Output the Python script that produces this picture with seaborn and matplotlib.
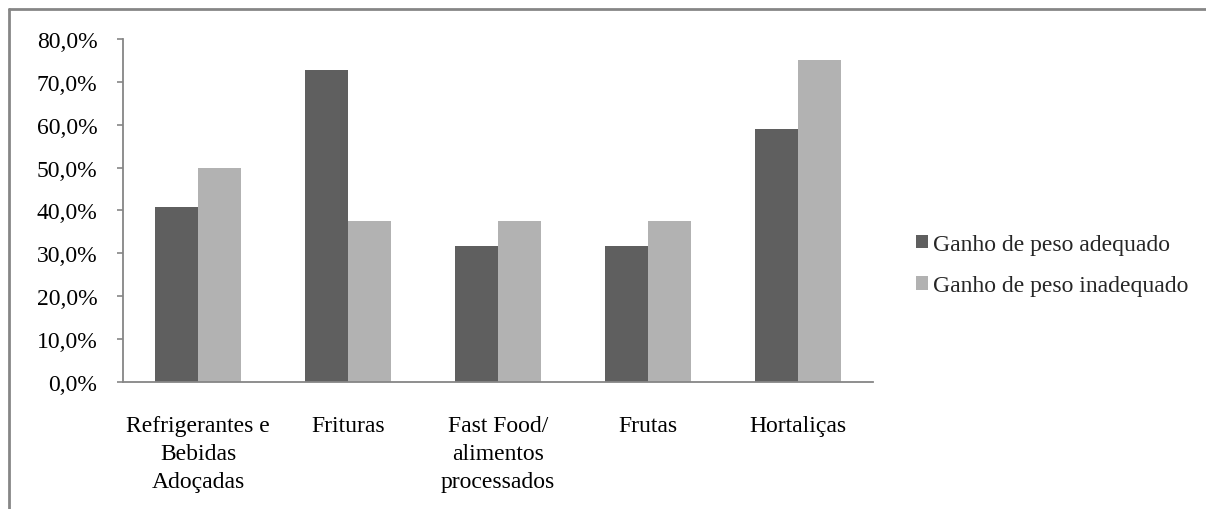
import matplotlib
matplotlib.use("Agg")
import matplotlib.pyplot as plt
import seaborn as sns
import pandas as pd
from matplotlib.patches import Patch
from matplotlib.lines import Line2D

categories = ["Refrigerantes e\nBebidas\nAdoçadas", "Frituras", "Fast Food/\nalimentos\nprocessados", "Frutas", "Hortaliças"]
series_names = ["Ganho de peso adequado", "Ganho de peso inadequado"]
adequado = [40.9, 72.7, 31.8, 31.8, 59.1]
inadequado = [50.0, 37.5, 37.5, 37.5, 75.0]
y_ticks = [0, 10, 20, 30, 40, 50, 60, 70, 80]
y_tick_labels = ["0,0%", "10,0%", "20,0%", "30,0%", "40,0%", "50,0%", "60,0%", "70,0%", "80,0%"]
colors = ["#5f5f5f", "#b2b2b2"]

df = pd.DataFrame({
    "cat": categories * 2,
    "serie": [series_names[0]] * 5 + [series_names[1]] * 5,
    "val": adequado + inadequado,
})

sns.set_theme(style="white")
plt.rcParams['font.family'] = ['Liberation Serif', 'DejaVu Serif']
fs = 17

fig = plt.figure(figsize=(12.06, 5.10), dpi=100)
ax = fig.add_axes([123/1206, 1-383/510, 750/1206, 343/510])
sns.barplot(data=df, x="cat", y="val", hue="serie", palette=colors, ax=ax,
            width=0.575, saturation=1, legend=False, edgecolor="none", linewidth=0)

ax.set_xlim(-0.5, 4.5)
ax.set_ylim(0, 80)
ax.set_yticks(y_ticks)
ax.set_yticklabels(y_tick_labels, fontsize=fs, color="black")
ax.set_xlabel("")
ax.set_ylabel("")
ax.set_xticks(range(5))
ax.set_xticklabels(categories, fontsize=fs, color="black", linespacing=1.44, va="top")
ax.tick_params(axis="x", which="major", length=0, pad=24)
ax.set_xticks([i - 0.5 for i in range(6)], minor=True)
ax.tick_params(axis="x", which="minor", length=4.5, width=1.2, color="#868686", direction="out")
ax.tick_params(axis="y", which="major", length=4.5, width=1.2, color="#868686", direction="out", left=True, pad=14)
for s in ["top", "right"]:
    ax.spines[s].set_visible(False)
for s in ["left", "bottom"]:
    ax.spines[s].set_color("#868686")
    ax.spines[s].set_linewidth(1.3)

handles = [Patch(facecolor=c, edgecolor="none") for c in colors]
fig.legend(handles, series_names, loc="center left", bbox_to_anchor=(916/1206, 1-266/510),
           frameon=False, fontsize=fs, handlelength=0.5, handleheight=0.5, handletextpad=0.22,
           labelspacing=0.87, borderpad=0, borderaxespad=0)

# chart border (top and left visible)
fig.add_artist(Line2D([9/1206, 1.0], [1-9.5/510, 1-9.5/510], transform=fig.transFigure, color="#868686", linewidth=2))
fig.add_artist(Line2D([8.5/1206, 8.5/1206], [0, 1-9.5/510], transform=fig.transFigure, color="#868686", linewidth=2))

fig.savefig("out.png", dpi=100, facecolor="white")
